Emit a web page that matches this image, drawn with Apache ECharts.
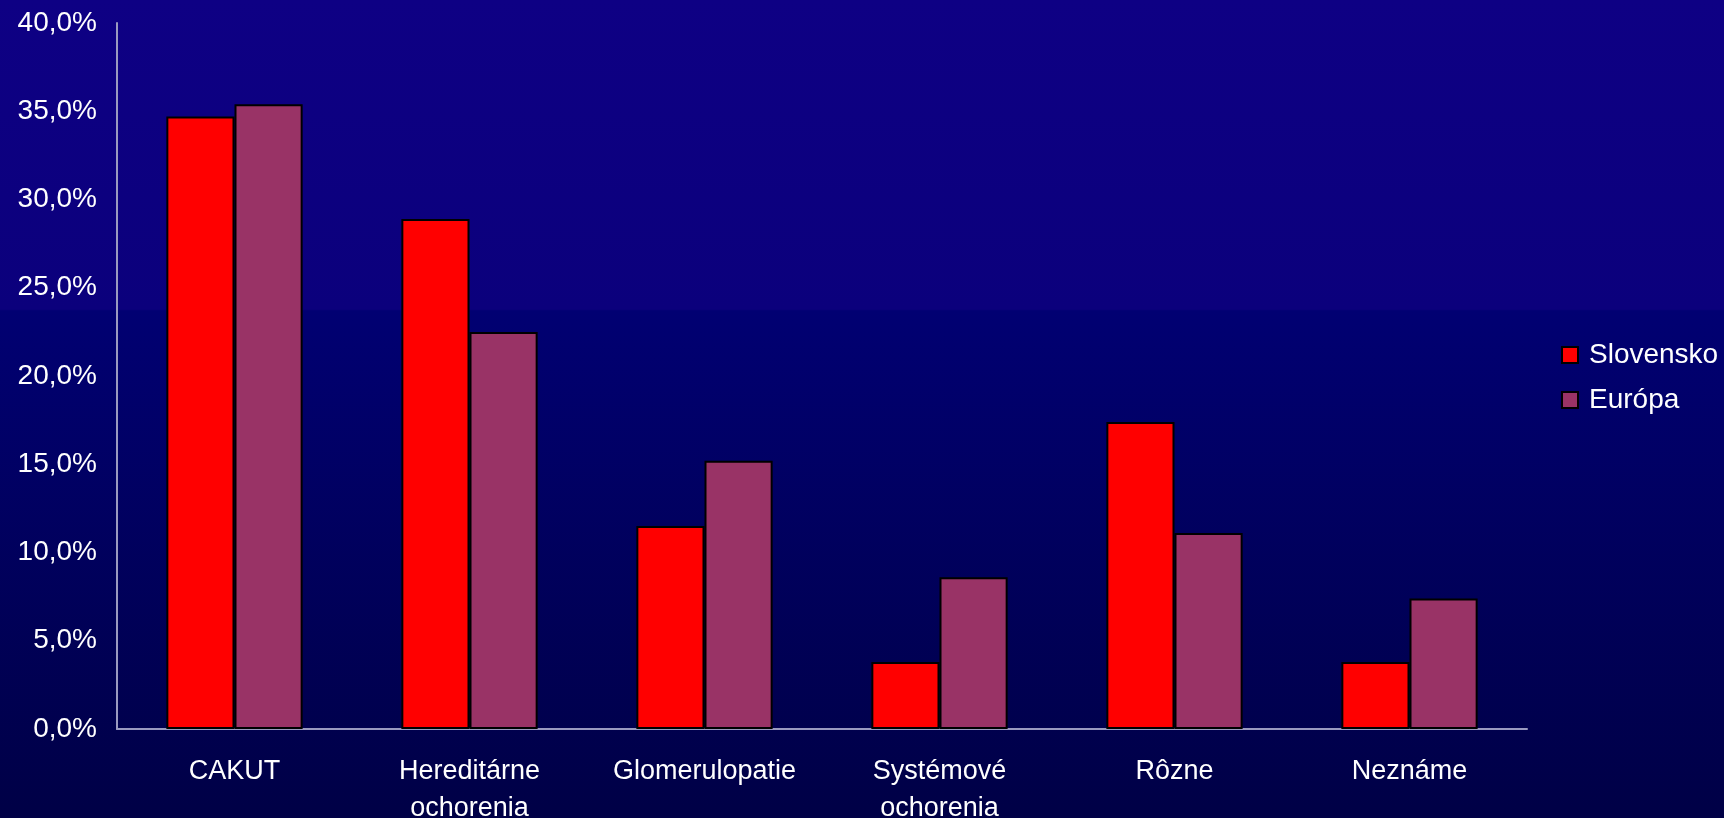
<!DOCTYPE html>
<html>
<head>
<meta charset="utf-8">
<script src="https://cdn.jsdelivr.net/npm/echarts@6/dist/echarts.min.js"></script>
<style>
html,body{margin:0;padding:0;width:1724px;height:818px;overflow:hidden;}
#chart{width:1724px;height:818px;}
</style>
</head>
<body>
<div id="chart"></div>
<script>
const categories = ['CAKUT', 'Hereditárne\nochorenia', 'Glomerulopatie', 'Systémové\nochorenia', 'Rôzne', 'Neznáme'];
const seriesNames = ['Slovensko', 'Európa'];
const slovensko = [34.7, 28.9, 11.5, 3.8, 17.4, 3.8];
const europa = [35.4, 22.5, 15.2, 8.6, 11.1, 7.4];
const yTicks = { min: 0, max: 40, interval: 5 };

const fontFamily = '"Liberation Sans", Arial, sans-serif';
const chart = echarts.init(document.getElementById('chart'), null, { renderer: 'canvas' });
chart.setOption({
  animation: false,
  backgroundColor: {
    type: 'linear', x: 0, y: 0, x2: 0, y2: 1,
    colorStops: [
      { offset: 0, color: '#0E0084' },
      { offset: 0.378, color: '#0B007C' },
      { offset: 0.38, color: '#010072' },
      { offset: 1, color: '#000046' }
    ]
  },
  grid: { left: 117, right: 197, top: 23, bottom: 89, containLabel: false, outerBoundsMode: 'none' },
  legend: {
    orient: 'vertical',
    left: 1561,
    top: 340,
    padding: 0,
    itemWidth: 16,
    itemHeight: 16,
    itemGap: 15,
    icon: 'rect',
    textStyle: { color: '#FFFFFF', fontSize: 28, lineHeight: 30, fontFamily: fontFamily, padding: [0, 0, 0, 6] },
    data: seriesNames
  },
  xAxis: {
    type: 'category',
    data: categories,
    axisLine: { lineStyle: { color: '#9A9AC0', width: 2 } },
    axisTick: { show: false },
    axisLabel: { color: '#FFFFFF', fontSize: 27, fontFamily: fontFamily, margin: 24, lineHeight: 37, interval: 0 }
  },
  yAxis: {
    type: 'value',
    min: yTicks.min, max: yTicks.max, interval: yTicks.interval,
    axisLine: { show: true, lineStyle: { color: '#9A9AC0', width: 2 } },
    axisTick: { show: false },
    splitLine: { show: false },
    axisLabel: {
      color: '#FFFFFF', fontSize: 28, fontFamily: fontFamily, margin: 20,
      formatter: v => v.toFixed(1).replace('.', ',') + '%'
    }
  },
  series: [
    {
      name: seriesNames[0], type: 'bar', data: slovensko,
      barGap: '0%', barCategoryGap: '42%',
      itemStyle: { color: '#FF0000', borderColor: '#000000', borderWidth: 2 }
    },
    {
      name: seriesNames[1], type: 'bar', data: europa,
      itemStyle: { color: '#993366', borderColor: '#000000', borderWidth: 2 }
    }
  ]
});
</script>
</body>
</html>
